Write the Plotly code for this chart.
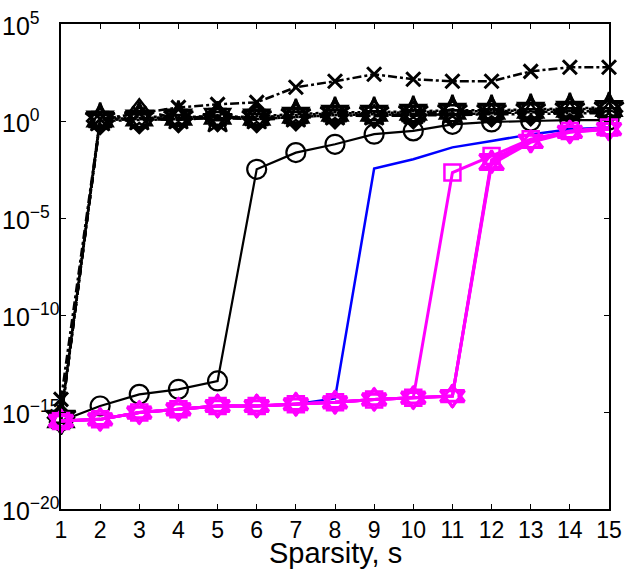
import plotly.graph_objects as go

sparsity = list(range(1, 16))

# log10 values
blk_x = [-14.35, 0.1, 0.4, 0.7, 0.86, 0.96, 1.74, 2.05, 2.41, 2.15, 2.05, 2.05, 2.56, 2.77, 2.77]
blk_sq = [-15.4, 0.05, 0.1, 0.15, 0.2, 0.15, 0.25, 0.35, 0.3, 0.35, 0.4, 0.45, 0.5, 0.55, 0.6]
blk_dia = [-15.3, 0.0, 0.05, 0.1, 0.15, 0.1, 0.2, 0.3, 0.35, 0.3, 0.35, 0.4, 0.45, 0.5, 0.5]
blk_hex = [-15.4, 0.1, 0.15, 0.2, 0.25, 0.2, 0.3, 0.4, 0.4, 0.45, 0.5, 0.5, 0.55, 0.6, 0.65]
blk_tup = [-15.3, -0.05, 0.6, 0.1, 0.3, 0.05, 0.15, 0.25, 0.3, 0.25, 0.6, 0.35, 0.4, 0.45, 0.45]
blk_tdn = [-15.4, 0.05, 0.1, 0.05, 0.2, 0.1, 0.2, 0.3, 0.25, 0.3, 0.3, 0.35, 0.35, 0.4, 0.4]
blk_star = [-15.2, 0.15, 0.2, 0.25, 0.1, 0.25, 0.35, 0.45, 0.45, 0.5, 0.55, 0.55, 0.6, 0.65, 0.7]
blk_circ = [-15.46, -14.69, -14.09, -13.83, -13.40, -2.49, -1.63, -1.20, -0.68, -0.51, -0.17, -0.05, 0.0, 0.05, 0.05]
blue = [-15.46, -15.38, -15.03, -14.86, -14.69, -14.69, -14.6, -14.3, -2.45, -1.97, -1.36, -1.03, -0.69, -0.43, -0.33]
mag_sq = [-15.46, -15.38, -15.03, -14.86, -14.69, -14.69, -14.6, -14.5, -14.35, -14.26, -2.66, -1.80, -0.94, -0.52, -0.33]
mag_tup = [-15.46, -15.38, -15.03, -14.86, -14.69, -14.69, -14.6, -14.5, -14.35, -14.26, -14.18, -2.23, -1.10, -0.58, -0.43]
mag_tdn = [-15.46, -15.38, -15.03, -14.86, -14.69, -14.69, -14.6, -14.5, -14.35, -14.26, -14.18, -2.0, -1.0, -0.55, -0.40]
mag_hex = [-15.46, -15.38, -15.03, -14.86, -14.69, -14.69, -14.6, -14.5, -14.35, -14.26, -14.18, -2.1, -1.05, -0.56, -0.42]

y_tick_exp = [5, 0, -5, -10, -15, -20]
y_tick_labels = ["10<sup>5</sup>", "10<sup>0</sup>", "10<sup>\u22125</sup>", "10<sup>\u221210</sup>",
                 "10<sup>\u221215</sup>", "10<sup>\u221220</sup>"]
x_label = "Sparsity, s"

def pw(v):
    return [10 ** e for e in v]

fig = go.Figure()

def add(vals, color, dash, symbol, width=2, msize=14, mwidth=2):
    fig.add_trace(go.Scatter(
        x=sparsity, y=pw(vals), mode="lines+markers" if symbol else "lines",
        line=dict(color=color, width=width, dash=dash),
        marker=dict(symbol=symbol or "circle", size=msize, color=color,
                    line=dict(color=color, width=mwidth)),
        cliponaxis=False, showlegend=False))

add(blk_sq, "black", "dash", "square-open", width=2.5, msize=16, mwidth=2.5)
add(blk_dia, "black", "dashdot", "diamond-open", width=2.5, msize=20, mwidth=2.5)
add(blk_hex, "black", "dot", "hexagram-open", width=2.5, msize=22, mwidth=2.5)
add(blk_tup, "black", "dash", "triangle-up-open", width=2.5, msize=20, mwidth=2.5)
add(blk_tdn, "black", "dashdot", "triangle-down-open", width=2.5, msize=20, mwidth=2.5)
add(blk_star, "black", "dot", "star-open", width=2.5, msize=22, mwidth=2.5)
add(blk_x, "black", "dashdot", "x-thin-open", width=2.5, msize=14, mwidth=3)
add(blk_circ, "black", "solid", "circle-open", width=2.2, msize=19, mwidth=2.2)
add(blue, "blue", "solid", None, width=2.5)
add(mag_sq, "magenta", "solid", "square-open", width=3, msize=16, mwidth=2.5)
add(mag_tup, "magenta", "solid", "triangle-up-open", width=3, msize=21, mwidth=3)
add(mag_tdn, "magenta", "solid", "triangle-down-open", width=3, msize=21, mwidth=3)
add(mag_hex, "magenta", "solid", "hexagram-open", width=3, msize=17, mwidth=3)

FAMILY = "Liberation Sans, Arial, sans-serif"

# y tick labels drawn as left-aligned text, as in the original
for e, lab in zip(y_tick_exp, y_tick_labels):
    fig.add_annotation(text=lab, xref="paper", x=0, xshift=-61, xanchor="left",
                       yref="y", y=e, yanchor="middle", showarrow=False,
                       font=dict(family=FAMILY, size=25, color="black"))
fig.add_annotation(text=x_label, xref="paper", x=0.5, yref="paper", y=0,
                   yshift=-44, yanchor="middle", showarrow=False,
                   font=dict(family=FAMILY, size=29, color="black"))

fig.update_layout(
    width=626, height=582,
    margin=dict(l=61, r=17, t=24, b=73),
    paper_bgcolor="white", plot_bgcolor="white",
    font=dict(family=FAMILY, size=23, color="black"),
    xaxis=dict(range=[1, 15], tickvals=sparsity, ticks="inside", ticklen=5,
               tickcolor="black", showline=True, linecolor="black", linewidth=1.5,
               mirror="ticks", showgrid=False, zeroline=False, automargin=False),
    yaxis=dict(type="log", range=[-20, 5], tickvals=[10 ** e for e in y_tick_exp],
               showticklabels=False, ticks="inside", ticklen=5, tickcolor="black",
               showline=True, linecolor="black", linewidth=1.5, mirror="ticks",
               showgrid=False, zeroline=False, automargin=False),
)
fig.write_html("out.html")
